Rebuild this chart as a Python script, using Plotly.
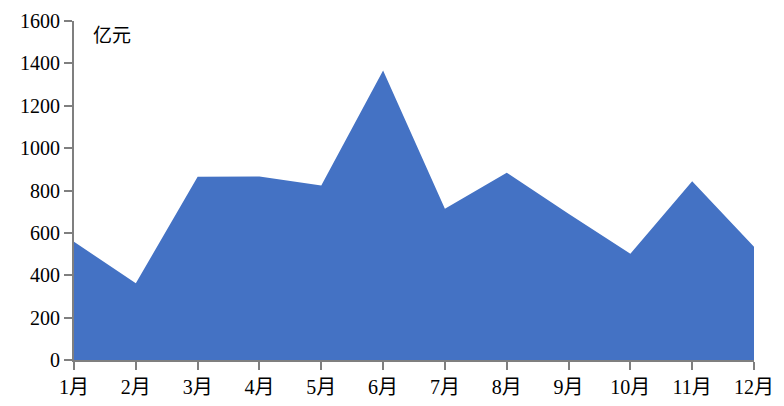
import plotly.graph_objects as go

months = ["1月", "2月", "3月", "4月", "5月", "6月",
          "7月", "8月", "9月", "10月", "11月", "12月"]
values = [558, 362, 865, 866, 824, 1366, 714, 884, 690, 502, 844, 535]
y_ticks = [0, 200, 400, 600, 800, 1000, 1200, 1400, 1600]
unit = "亿元"

font_family = "Liberation Serif, Noto Sans CJK SC, serif"

fig = go.Figure(go.Scatter(
    x=months,
    y=values,
    mode="lines",
    line=dict(color="#4472C4", width=0),
    fill="tozeroy",
    fillcolor="#4472C4",
    hoverinfo="x+y",
))

axis_style = dict(
    showline=True,
    linecolor="#7f7f7f",
    linewidth=2,
    ticks="outside",
    ticklen=8,
    tickwidth=2,
    tickcolor="#7f7f7f",
    showgrid=False,
    zeroline=False,
    automargin=False,
    tickfont=dict(family=font_family, size=20, color="#000000"),
)

fig.update_xaxes(axis_style, range=[0, 11])
fig.update_yaxes(axis_style, range=[0, 1600], tickvals=y_ticks)

# unit label in the top-left corner of the plot
fig.add_annotation(
    text=unit, xref="paper", yref="paper", x=0.025, y=0.962,
    xanchor="left", yanchor="middle", showarrow=False,
    font=dict(family="Noto Sans CJK SC", size=19, color="#000000"),
)

fig.update_layout(
    width=776,
    height=398,
    margin=dict(l=66, r=30, t=13, b=46),
    paper_bgcolor="white",
    plot_bgcolor="white",
    showlegend=False,
)

fig.write_html("out.html")
